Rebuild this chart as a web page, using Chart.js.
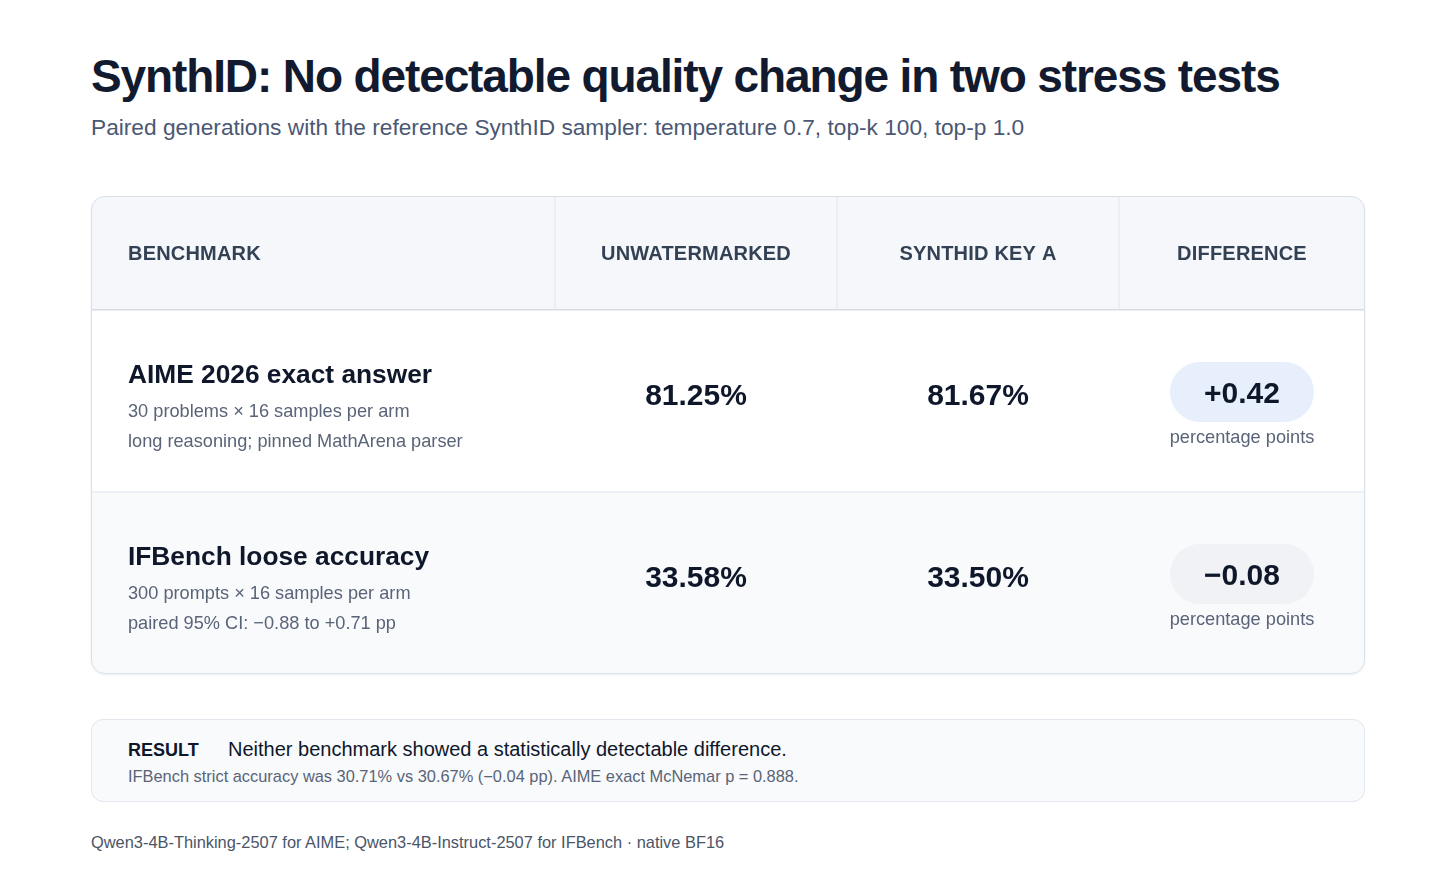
<!DOCTYPE html>
<html>
<head>
<meta charset="utf-8">
<script src="https://cdn.jsdelivr.net/npm/chart.js@4.4.1/dist/chart.umd.min.js"></script>
<style>
  html, body { margin: 0; padding: 0; background: #ffffff; }
  body { width: 1456px; height: 892px; position: relative; font-family: "Liberation Sans", Arial, sans-serif; overflow: hidden; }
  .abs { position: absolute; white-space: nowrap; line-height: 1; }
  #title { left: 91px; top: 53px; font-size: 46px; font-weight: bold; color: #111a2e; letter-spacing: -1.12px; }
  #subtitle { left: 91px; top: 116px; font-size: 22.7px; color: #4a5873; }
  #card { position: absolute; left: 91px; top: 196px; width: 1274px; height: 478px; border-radius: 14px; overflow: hidden;
          box-shadow: 0 1px 2px rgba(15, 23, 42, 0.08); }
  #cardBorder { position: absolute; left: 91px; top: 196px; width: 1274px; height: 478px; box-sizing: border-box;
                border: 1px solid #d9e0ea; border-radius: 14px; pointer-events: none; }
  #result { position: absolute; left: 91px; top: 719px; width: 1274px; height: 83px; box-sizing: border-box;
            background: #f8fafc; border: 1px solid #e3e8ef; border-radius: 12px; }
  #resultTag { left: 36px; top: 21px; font-size: 18px; font-weight: bold; color: #0f172a; }
  #resultText { left: 136px; top: 19px; font-size: 20px; color: #0f172a; }
  #resultNote { left: 36px; top: 48px; font-size: 16.4px; color: #5a6478; }
  #footer { left: 91px; top: 834px; font-size: 16.4px; color: #4a5568; }
</style>
</head>
<body>
<div id="title" class="abs">SynthID: No detectable quality change in two stress tests</div>
<div id="subtitle" class="abs">Paired generations with the reference SynthID sampler: temperature 0.7, top-k 100, top-p 1.0</div>

<div id="card"><canvas id="chartTable"></canvas></div>
<div id="cardBorder"></div>

<div id="result">
  <div id="resultTag" class="abs">RESULT</div>
  <div id="resultText" class="abs">Neither benchmark showed a statistically detectable difference.</div>
  <div id="resultNote" class="abs">IFBench strict accuracy was 30.71% vs 30.67% (−0.04 pp). AIME exact McNemar p = 0.888.</div>
</div>
<div id="footer" class="abs">Qwen3-4B-Thinking-2507 for AIME; Qwen3-4B-Instruct-2507 for IFBench · native BF16</div>

<script>
// table data
const columns = ['BENCHMARK', 'UNWATERMARKED', 'SYNTHID KEY A', 'DIFFERENCE'];
const benchmarks = ['AIME 2026 exact answer', 'IFBench loose accuracy'];
const benchmarkNotes = [
    ['30 problems × 16 samples per arm', 'long reasoning; pinned MathArena parser'],
    ['300 prompts × 16 samples per arm', 'paired 95% CI: −0.88 to +0.71 pp'],
];
const unwatermarked = [81.25, 33.58];
const synthidKeyA = [81.67, 33.50];
const difference = [0.42, -0.08];
const differenceUnit = 'percentage points';

// layout: column edges in table units (x scale runs 0..1274)
const COL_EDGES = [0, 464, 746, 1028, 1274];
const HEADER_H = 114;
const FONT = '"Liberation Sans", Arial, sans-serif';

const colCenter = i => (COL_EDGES[i] + COL_EDGES[i + 1]) / 2;
const fmtPct = v => v.toFixed(2) + '%';
const fmtDiff = v => (v >= 0 ? '+' : '\u2212') + Math.abs(v).toFixed(2);

function roundRect(ctx, x, y, w, h, r) {
    ctx.beginPath();
    ctx.moveTo(x + r, y);
    ctx.arcTo(x + w, y, x + w, y + h, r);
    ctx.arcTo(x + w, y + h, x, y + h, r);
    ctx.arcTo(x, y + h, x, y, r);
    ctx.arcTo(x, y, x + w, y, r);
    ctx.closePath();
}

const tablePlugin = {
    id: 'tableCells',
    beforeDatasetsDraw(chart) {
        const { ctx, chartArea, scales: { x, y } } = chart;
        const band = chartArea.height / benchmarks.length;
        ctx.save();
        // header band
        ctx.fillStyle = '#f5f7fa';
        ctx.fillRect(chartArea.left, 0, chartArea.width, chartArea.top);
        // row bands
        const rowFills = ['#ffffff', '#f9fafc'];
        benchmarks.forEach((b, i) => {
            const cy = y.getPixelForValue(i);
            ctx.fillStyle = rowFills[i % 2];
            ctx.fillRect(chartArea.left, cy - band / 2, chartArea.width, band);
        });
        // lines
        ctx.fillStyle = '#d5dce6';
        ctx.fillRect(chartArea.left, chartArea.top - 1, chartArea.width, 1.5);
        ctx.fillStyle = '#dde3ec';
        for (let i = 1; i < benchmarks.length; i++) {
            const yy = y.getPixelForValue(i) - band / 2;
            ctx.fillRect(chartArea.left, yy - 0.5, chartArea.width, 1);
        }
        ctx.fillStyle = '#e1e6ee';
        for (let i = 1; i < columns.length; i++) {
            const xx = x.getPixelForValue(COL_EDGES[i]);
            ctx.fillRect(xx - 0.5, 0, 1, chartArea.top);
        }
        // header labels
        ctx.fillStyle = '#334155';
        ctx.font = 'bold 20px ' + FONT;
        ctx.letterSpacing = '0.2px';
        ctx.textBaseline = 'alphabetic';
        columns.forEach((c, i) => {
            if (i === 0) {
                ctx.textAlign = 'left';
                ctx.fillText(c, x.getPixelForValue(COL_EDGES[0]) + 37, chartArea.top / 2 + 7);
            } else {
                ctx.textAlign = 'center';
                ctx.fillText(c, x.getPixelForValue(colCenter(i)), chartArea.top / 2 + 7);
            }
        });
        ctx.restore();
    },
    afterDatasetsDraw(chart) {
        const { ctx, scales: { x, y } } = chart;
        ctx.save();
        ctx.textBaseline = 'alphabetic';
        // benchmark names and notes
        benchmarks.forEach((b, i) => {
            const cy = y.getPixelForValue(i);
            const lx = x.getPixelForValue(COL_EDGES[0]) + 37;
            ctx.textAlign = 'left';
            ctx.fillStyle = '#0f172a';
            ctx.font = 'bold 26.3px ' + FONT;
            ctx.fillText(b, lx, cy - 18);
            ctx.fillStyle = '#5a6478';
            ctx.font = '18.2px ' + FONT;
            benchmarkNotes[i].forEach((n, k) => ctx.fillText(n, lx, cy + 16 + k * 30));
        });
        // numeric cells
        chart.data.datasets.forEach((ds, di) => {
            const meta = chart.getDatasetMeta(di);
            meta.data.forEach((pt, i) => {
                const v = ds.values[i];
                ctx.textAlign = 'center';
                if (ds.kind === 'pct') {
                    ctx.fillStyle = '#0f172a';
                    ctx.font = 'bold 30px ' + FONT;
                    ctx.fillText(fmtPct(v), pt.x, pt.y + 4);
                } else {
                    ctx.fillStyle = v >= 0 ? '#e7effd' : '#f0f2f5';
                    roundRect(ctx, pt.x - 72, pt.y - 39, 144, 60, 30);
                    ctx.fill();
                    ctx.fillStyle = '#0f172a';
                    ctx.font = 'bold 30px ' + FONT;
                    ctx.fillText(fmtDiff(v), pt.x, pt.y + 2);
                    ctx.fillStyle = '#5a6478';
                    ctx.font = '18.2px ' + FONT;
                    ctx.fillText(differenceUnit, pt.x, pt.y + 42);
                }
            });
        });
        ctx.restore();
    }
};

const ctxTable = document.getElementById('chartTable');
const chartTable = new Chart(ctxTable, {
    type: 'scatter',
    data: {
        datasets: [
            { label: columns[1], kind: 'pct', values: unwatermarked,
              data: unwatermarked.map((v, i) => ({ x: colCenter(1), y: benchmarks[i] })) },
            { label: columns[2], kind: 'pct', values: synthidKeyA,
              data: synthidKeyA.map((v, i) => ({ x: colCenter(2), y: benchmarks[i] })) },
            { label: columns[3], kind: 'diff', values: difference,
              data: difference.map((v, i) => ({ x: colCenter(3), y: benchmarks[i] })) },
        ]
    },
    options: {
        responsive: true,
        maintainAspectRatio: false,
        animation: false,
        layout: { padding: { top: HEADER_H, left: 0, right: 0, bottom: 0 } },
        elements: { point: { radius: 0, hoverRadius: 0 } },
        plugins: { legend: { display: false }, tooltip: { enabled: false } },
        events: [],
        scales: {
            x: { type: 'linear', min: COL_EDGES[0], max: COL_EDGES[COL_EDGES.length - 1], display: false },
            y: { type: 'category', labels: benchmarks, offset: true, display: false }
        }
    },
    plugins: [tablePlugin]
});
</script>
</body>
</html>
